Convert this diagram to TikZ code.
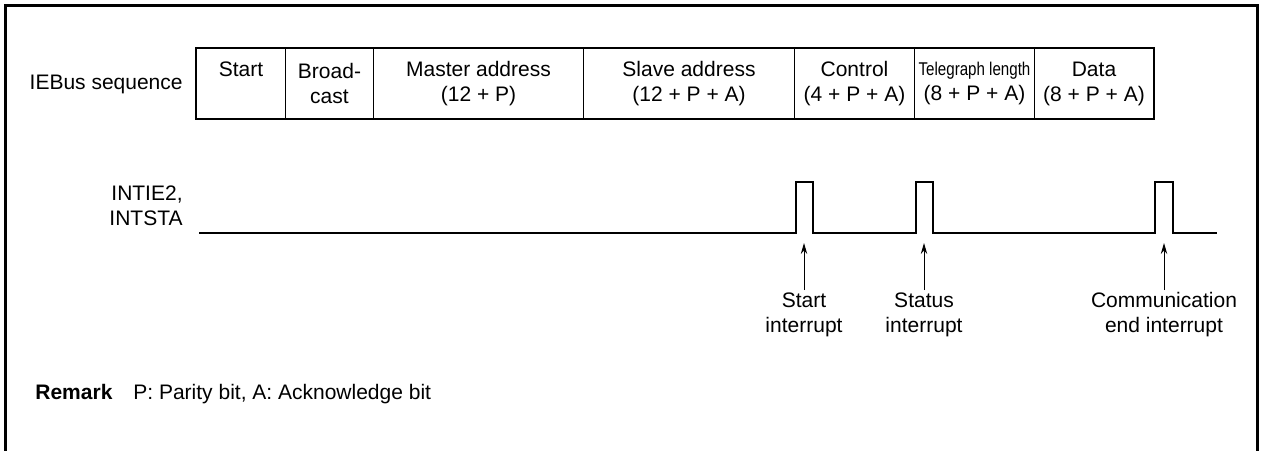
\documentclass[tikz,border=0pt]{standalone}
\usepackage{fontspec}
\setmainfont{Liberation Sans}
\usetikzlibrary{arrows.meta}
\begin{document}
\begin{tikzpicture}[x=0.5pt,y=-0.5pt,
  every node/.style={font=\fontsize{10.5pt}{12.5pt}\selectfont},
  cell/.style={draw, line width=0.5pt, minimum height=35pt, inner sep=0pt, align=center, anchor=north west},
  txt/.style={inner sep=0pt, align=center},
  sig/.style={line width=1pt, line join=miter},
  ptr/.style={line width=0.5pt, -{Stealth[length=5.5pt,width=3.2pt]}},
  frame/.style={line width=1.5pt}]
\useasboundingbox (0,0) rectangle (1264,450);
% frame
\draw[frame] (5,452) -- (5,5) -- (1257,5) -- (1257,452);
% sequence label
\node[txt, anchor=east] (seqlbl) at (183,84) {IEBus sequence};
% table cells
\node[cell, minimum width=44.5pt] (c1) at (196,48) {Start\\\phantom{(}};
\node[cell, minimum width=44pt] (c2) at (285,48) {Broad-\\cast};
\node[cell, minimum width=105pt] (c3) at (373,48) {Master address\\(12 + P)};
\node[cell, minimum width=105.5pt] (c4) at (583,48) {Slave address\\(12 + P + A)};
\node[cell, minimum width=60pt] (c5) at (794,48) {Control\\(4 + P + A)};
\node[cell, minimum width=60pt] (c6) at (914,48) {\scalebox{0.72}[0.88]{Telegraph length}\\(8 + P + A)};
\node[cell, minimum width=59.5pt] (c7) at (1034,48) {Data\\(8 + P + A)};
\draw[line width=1pt] (c1.north west) rectangle (c7.south east);
% signal label
\node[txt, anchor=east, align=right] (siglbl) at (183,206) {INTIE2,\\INTSTA};
% waveform
\draw[sig] (199,233) -- (796,233) -- (796,182) -- (813,182) -- (813,233)
  -- (916,233) -- (916,182) -- (933,182) -- (933,233)
  -- (1155,233) -- (1155,182) -- (1173,182) -- (1173,233) -- (1217,233);
% interrupt labels
\node[txt] (l1) at (804,315) {Start\\interrupt};
\node[txt] (l2) at (924,315) {Status\\interrupt};
\node[txt] (l3) at (1164,315) {Communication\\end interrupt};
\draw[ptr] (l1.north |- 0,290) -- (804,243);
\draw[ptr] (l2.north |- 0,290) -- (924,243);
\draw[ptr] (l3.north |- 0,290) -- (1164,243);
% remark
\node[txt, anchor=base west] (rem) at (35,399) {\bfseries Remark};
\node[txt, anchor=base west] (remt) at (133,399) {P: Parity bit, A: Acknowledge bit};
\end{tikzpicture}
\end{document}
